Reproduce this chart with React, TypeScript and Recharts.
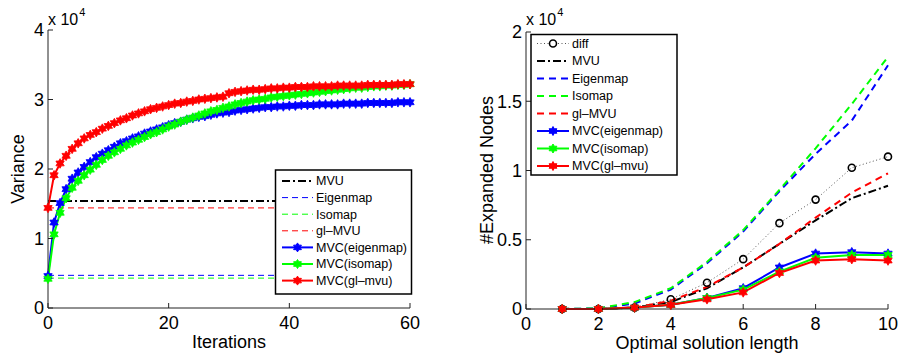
import { Line, LineChart, ReferenceLine, XAxis, YAxis } from "recharts"

// left panel: variance (x 10^4) per iteration
const iterations = Array.from({ length: 61 }, (_, i) => i)

const varEigenmap = [
  0.46, 1.23, 1.51, 1.71, 1.86, 1.95, 2.03, 2.1, 2.17, 2.22, 2.27, 2.32, 2.37, 2.4, 2.44, 2.47, 2.51, 2.54, 2.57, 2.6,
  2.63, 2.66, 2.68, 2.71, 2.73, 2.75, 2.76, 2.78, 2.8, 2.81, 2.82, 2.84, 2.85, 2.86, 2.87, 2.88, 2.89, 2.89, 2.9, 2.9,
  2.91, 2.91, 2.92, 2.92, 2.92, 2.93, 2.93, 2.93, 2.93, 2.94, 2.94, 2.94, 2.94, 2.95, 2.95, 2.95, 2.95, 2.95, 2.96,
  2.96, 2.96,
]
const varIsomap = [
  0.42, 1.06, 1.37, 1.58, 1.73, 1.83, 1.91, 1.99, 2.06, 2.13, 2.19, 2.24, 2.29, 2.34, 2.38, 2.42, 2.46, 2.5, 2.53, 2.57,
  2.61, 2.64, 2.68, 2.71, 2.74, 2.77, 2.8, 2.83, 2.85, 2.88, 2.9, 2.93, 2.95, 2.97, 2.99, 3.0, 3.01, 3.03, 3.04, 3.05,
  3.06, 3.07, 3.08, 3.09, 3.1, 3.11, 3.12, 3.13, 3.14, 3.15, 3.16, 3.17, 3.17, 3.18, 3.19, 3.19, 3.2, 3.2, 3.21, 3.21,
  3.22,
]
const varGlMvu = [
  1.44, 1.91, 2.08, 2.19, 2.29, 2.37, 2.44, 2.49, 2.53, 2.58, 2.62, 2.66, 2.7, 2.73, 2.77, 2.8, 2.83, 2.86, 2.88, 2.9,
  2.92, 2.94, 2.95, 2.97, 2.98, 3.0, 3.01, 3.02, 3.03, 3.04, 3.09, 3.11, 3.12, 3.13, 3.14, 3.14, 3.15, 3.16, 3.16, 3.17,
  3.17, 3.18, 3.18, 3.18, 3.19, 3.19, 3.19, 3.19, 3.2, 3.2, 3.2, 3.2, 3.2, 3.21, 3.21, 3.21, 3.21, 3.21, 3.22, 3.22,
  3.22,
]
const baseMvu = 1.54
const baseEigenmap = 0.47
const baseIsomap = 0.43
const baseGlMvu = 1.44

// right panel: expanded nodes (x 10^4) per solution length
const lengths = [1, 2, 3, 4, 5, 6, 7, 8, 9, 10]
const nodesDiff = [0, 0, 0.01, 0.07, 0.19, 0.36, 0.62, 0.79, 1.02, 1.1]
const nodesMvu = [0, 0, 0.01, 0.05, 0.15, 0.3, 0.47, 0.64, 0.8, 0.89]
const nodesEigenmap = [0, 0.005, 0.04, 0.14, 0.33, 0.56, 0.85, 1.12, 1.36, 1.76]
const nodesIsomap = [0, 0.005, 0.05, 0.15, 0.34, 0.57, 0.86, 1.16, 1.48, 1.82]
const nodesGlMvu = [0, 0, 0.01, 0.06, 0.16, 0.3, 0.47, 0.66, 0.84, 0.98]
const nodesMvcEigenmap = [0, 0, 0.01, 0.03, 0.08, 0.15, 0.3, 0.4, 0.41, 0.4]
const nodesMvcIsomap = [0, 0, 0.01, 0.03, 0.08, 0.14, 0.27, 0.37, 0.39, 0.39]
const nodesMvcGlMvu = [0, 0, 0.01, 0.03, 0.07, 0.12, 0.26, 0.35, 0.36, 0.35]

const leftData = iterations.map((it, i) => ({
  it,
  eigen: varEigenmap[i],
  iso: varIsomap[i],
  gl: varGlMvu[i],
}))

const rightData = lengths.map((len, i) => ({
  len,
  diff: nodesDiff[i],
  mvu: nodesMvu[i],
  eigen: nodesEigenmap[i],
  iso: nodesIsomap[i],
  gl: nodesGlMvu[i],
  mvcEigen: nodesMvcEigenmap[i],
  mvcIso: nodesMvcIsomap[i],
  mvcGl: nodesMvcGlMvu[i],
}))

const FONT = "'Liberation Sans', Arial, Helvetica, sans-serif"
const BLUE = "#0000ff"
const GREEN = "#00ff00"
const RED = "#ff0000"
const DASHDOT = "8 3 2 3"

function hexagram(cx: number, cy: number, r: number) {
  const pts: string[] = []
  for (let k = 0; k < 12; k++) {
    const a = (Math.PI / 6) * k - Math.PI / 2
    const rr = k % 2 === 0 ? r : r * 0.58
    pts.push(`${cx + rr * Math.cos(a)},${cy + rr * Math.sin(a)}`)
  }
  return pts.join(" ")
}

const starDot = (color: string, r: number) => (props: any) => {
  const { cx, cy, index } = props
  if (cx == null || cy == null) return <g key={index} />
  return <polygon key={index} points={hexagram(cx, cy, r)} fill={color} stroke={color} strokeWidth={0.8} />
}

type Item = { label: string; color: string; width: number; dash?: string; marker?: "star" | "circle" }

const leftLegend: Item[] = [
  { label: "MVU", color: "#000", width: 2, dash: DASHDOT },
  { label: "Eigenmap", color: BLUE, width: 1, dash: "6 4" },
  { label: "Isomap", color: GREEN, width: 1, dash: "6 4" },
  { label: "gl\u2013MVU", color: RED, width: 1, dash: "6 4" },
  { label: "MVC(eigenmap)", color: BLUE, width: 2, marker: "star" },
  { label: "MVC(isomap)", color: GREEN, width: 2, marker: "star" },
  { label: "MVC(gl\u2013mvu)", color: RED, width: 2, marker: "star" },
]

const rightLegend: Item[] = [
  { label: "diff", color: "#000", width: 1, dash: "1 2.5", marker: "circle" },
  { label: "MVU", color: "#000", width: 2, dash: DASHDOT },
  { label: "Eigenmap", color: BLUE, width: 2, dash: "7 5" },
  { label: "Isomap", color: GREEN, width: 2, dash: "7 5" },
  { label: "gl\u2013MVU", color: RED, width: 2, dash: "7 5" },
  { label: "MVC(eigenmap)", color: BLUE, width: 2, marker: "star" },
  { label: "MVC(isomap)", color: GREEN, width: 2, marker: "star" },
  { label: "MVC(gl\u2013mvu)", color: RED, width: 2, marker: "star" },
]

function LegendBox(props: {
  x: number
  y: number
  w: number
  h: number
  first: number
  gap: number
  x1: number
  x2: number
  items: Item[]
}) {
  const { x, y, w, h, first, gap, x1, x2, items } = props
  const mid = (x1 + x2) / 2
  return (
    <g>
      <rect x={x} y={y} width={w} height={h} fill="#fff" stroke="#000" strokeWidth={1.5} />
      {items.map((item, i) => {
        const cy = first + i * gap
        return (
          <g key={item.label}>
            <line
              x1={x1}
              x2={x2}
              y1={cy}
              y2={cy}
              stroke={item.marker === "circle" ? "#555" : item.color}
              strokeWidth={item.width}
              strokeDasharray={item.dash}
            />
            {item.marker === "star" && <polygon points={hexagram(mid, cy, 4.5)} fill={item.color} stroke={item.color} />}
            {item.marker === "circle" && <circle cx={mid} cy={cy} r={3.5} fill="#fff" stroke="#000" strokeWidth={1.6} />}
            <text x={x2 + 3} y={cy} dy="0.35em" fontSize={12.5} fill="#000">
              {item.label}
            </text>
          </g>
        )
      })}
    </g>
  )
}

const tickStyle = { fontSize: 18, fill: "#000", fontFamily: FONT }

export default function App() {
  return (
    <div style={{ position: "absolute", left: 0, top: 0, width: 901, height: 356, fontFamily: FONT, background: "#fff" }}>
      <div style={{ position: "absolute", left: 0, top: 0 }}>
        <LineChart width={450} height={356} data={leftData} margin={{ top: 30, right: 40, bottom: 18, left: 8 }}>
          <XAxis
            dataKey="it"
            type="number"
            domain={[0, 60]}
            ticks={[0, 20, 40, 60]}
            height={30}
            stroke="#222"
            tickSize={-5}
            tickMargin={13}
            tick={tickStyle}
            label={{ value: "Iterations", position: "bottom", offset: -3, fontSize: 18, fill: "#000" }}
          />
          <YAxis
            type="number"
            domain={[0, 4]}
            ticks={[0, 1, 2, 3, 4]}
            width={40}
            stroke="#222"
            tickSize={-5}
            tickMargin={9}
            tick={tickStyle}
          />
          <ReferenceLine y={baseMvu} stroke="#000" strokeWidth={2} strokeDasharray={DASHDOT} />
          <ReferenceLine y={baseEigenmap} stroke={BLUE} strokeWidth={1} strokeDasharray="6 4" />
          <ReferenceLine y={baseIsomap} stroke={GREEN} strokeWidth={1} strokeDasharray="6 4" />
          <ReferenceLine y={baseGlMvu} stroke={RED} strokeWidth={1} strokeDasharray="6 4" />
          <Line dataKey="eigen" stroke={BLUE} strokeWidth={2} dot={starDot(BLUE, 4.8)} activeDot={false} isAnimationActive={false} />
          <Line dataKey="iso" stroke={GREEN} strokeWidth={2} dot={starDot(GREEN, 4.8)} activeDot={false} isAnimationActive={false} />
          <Line dataKey="gl" stroke={RED} strokeWidth={2} dot={starDot(RED, 4.8)} activeDot={false} isAnimationActive={false} />
        </LineChart>
      </div>
      <div style={{ position: "absolute", left: 450, top: 0 }}>
        <LineChart width={451} height={356} data={rightData} margin={{ top: 32, right: 13, bottom: 17, left: 36 }}>
          <XAxis
            dataKey="len"
            type="number"
            domain={[0, 10]}
            ticks={[0, 2, 4, 6, 8, 10]}
            height={30}
            stroke="#222"
            tickSize={-5}
            tickMargin={13}
            tick={tickStyle}
            label={{ value: "Optimal solution length", position: "bottom", offset: -3, fontSize: 18, fill: "#000" }}
          />
          <YAxis
            type="number"
            domain={[0, 2]}
            ticks={[0, 0.5, 1, 1.5, 2]}
            width={40}
            stroke="#222"
            tickSize={-5}
            tickMargin={9}
            tick={tickStyle}
          />
          <Line
            dataKey="diff"
            stroke="#555"
            strokeWidth={1}
            strokeDasharray="1 2.5"
            dot={{ r: 3.5, fill: "none", stroke: "#000", strokeWidth: 1.6, strokeDasharray: "" }}
            activeDot={false}
            isAnimationActive={false}
          />
          <Line dataKey="mvu" stroke="#000" strokeWidth={2} strokeDasharray={DASHDOT} dot={false} activeDot={false} isAnimationActive={false} />
          <Line dataKey="eigen" stroke={BLUE} strokeWidth={2} strokeDasharray="7 5" dot={false} activeDot={false} isAnimationActive={false} />
          <Line dataKey="iso" stroke={GREEN} strokeWidth={2} strokeDasharray="7 5" dot={false} activeDot={false} isAnimationActive={false} />
          <Line dataKey="gl" stroke={RED} strokeWidth={2} strokeDasharray="7 5" dot={false} activeDot={false} isAnimationActive={false} />
          <Line dataKey="mvcEigen" stroke={BLUE} strokeWidth={2} dot={starDot(BLUE, 4.8)} activeDot={false} isAnimationActive={false} />
          <Line dataKey="mvcIso" stroke={GREEN} strokeWidth={2} dot={starDot(GREEN, 4.8)} activeDot={false} isAnimationActive={false} />
          <Line dataKey="mvcGl" stroke={RED} strokeWidth={2} dot={starDot(RED, 4.8)} activeDot={false} isAnimationActive={false} />
        </LineChart>
      </div>
      <svg
        width={901}
        height={356}
        style={{ position: "absolute", left: 0, top: 0, pointerEvents: "none", fontFamily: FONT }}
      >
        <text x={48} y={25} fontSize={16} fill="#000">
          x 10
          <tspan dx={1} dy={-9} fontSize={11}>
            4
          </tspan>
        </text>
        <text x={526} y={25} fontSize={16} fill="#000">
          x 10
          <tspan dx={1} dy={-9} fontSize={11}>
            4
          </tspan>
        </text>
        <text x={18} y={169} fontSize={18} fill="#000" textAnchor="middle" dominantBaseline="central" transform="rotate(-90 18 169)">
          Variance
        </text>
        <text x={487} y={170} fontSize={18} fill="#000" textAnchor="middle" dominantBaseline="central" transform="rotate(-90 487 170)">
          #Expanded Nodes
        </text>
        <LegendBox x={275.5} y={170} w={136} h={124} first={181} gap={16.6} x1={282} x2={313} items={leftLegend} />
        <LegendBox x={531} y={34.5} w={146} h={140.5} first={43.5} gap={17.5} x1={537} x2={569} items={rightLegend} />
      </svg>
    </div>
  )
}
